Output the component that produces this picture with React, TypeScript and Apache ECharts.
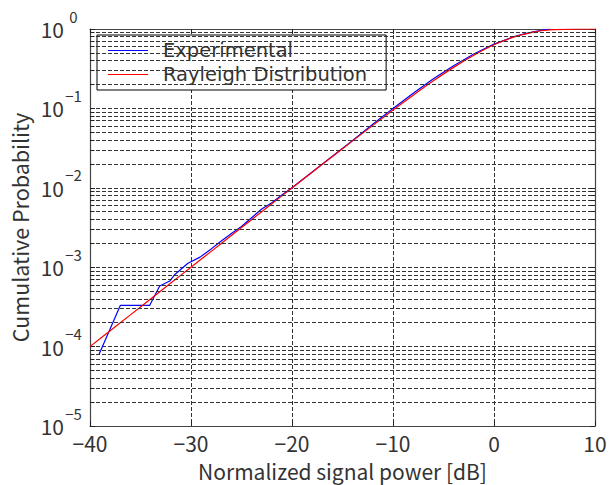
import React, { useEffect, useRef } from "react";
import * as echarts from "echarts";

const xTicks = [-40, -30, -20, -10, 0, 10];
const decadeExps = [-5, -4, -3, -2, -1, 0];
const minorMultipliers = [2, 3, 4, 5, 6, 7, 8, 9];

const rayleighX = [-40, -38, -36, -34, -32, -30, -28, -26, -24, -22, -20, -18, -16, -14, -12, -10, -8, -6, -4, -2, 0, 2, 4, 5, 6, 8, 10];
const rayleighY = [1.0e-4, 1.585e-4, 2.51e-4, 3.98e-4, 6.31e-4, 1.0e-3, 1.583e-3, 2.51e-3, 3.97e-3, 6.29e-3, 9.95e-3, 0.01572, 0.0248, 0.039, 0.0611, 0.0952, 0.1466, 0.2223, 0.3286, 0.4665, 0.632, 0.796, 0.92, 0.958, 0.981, 0.9981, 1.0];

const expX = [-39.1, -37.0, -34.1, -33.1, -32.1, -31.6, -30.3, -29.1, -28.0, -27.2, -26.0, -25.0, -24.0, -23.0, -22.0, -21.0, -20.0, -18.0, -16.0, -14.0, -12.0, -10.0, -8.0, -6.0, -4.0, -2.0, 0.0, 2.0, 3.0, 4.0, 5.0, 5.6];
const expY = [8.0e-5, 3.3e-4, 3.3e-4, 5.8e-4, 6.7e-4, 8.1e-4, 1.12e-3, 1.34e-3, 1.7e-3, 2.05e-3, 2.65e-3, 3.25e-3, 4.2e-3, 5.4e-3, 6.5e-3, 8.1e-3, 1.0e-2, 1.58e-2, 2.5e-2, 3.95e-2, 6.3e-2, 0.1, 0.155, 0.236, 0.345, 0.485, 0.645, 0.8, 0.87, 0.93, 0.975, 1.0];

const FONT = "'Noto Sans CJK JP', 'Noto Sans', sans-serif";
const LEGEND_FONT = "'DejaVu Sans', sans-serif";
const TEXT_COLOR = "#333";
const GRID_COLOR = "#333";
const DASH = [4, 2];

export default function App() {
  const ref = useRef<HTMLDivElement>(null);
  useEffect(() => {
    if (!ref.current) return;
    const chart = echarts.init(ref.current, null, { renderer: "svg" });

    const minorValues: number[] = [];
    decadeExps.slice(0, -1).forEach((e) => {
      minorMultipliers.forEach((m) => minorValues.push(m * Math.pow(10, e)));
    });
    const xMin = xTicks[0];
    const xMax = xTicks[xTicks.length - 1];

    const minorGrid = minorValues.map((v) => ({ yAxis: v }));
    const minorTicks: any[] = [];
    minorValues.forEach((v) => {
      minorTicks.push([{ coord: [xMin, v] }, { coord: [xMin + 0.45, v] }]);
      minorTicks.push([{ coord: [xMax - 0.45, v] }, { coord: [xMax, v] }]);
    });

    const option: any = {
      animation: false,
      grid: { left: 90, right: 14, top: 29, bottom: 59, containLabel: false, outerBoundsMode: "none" },
      legend: {
        orient: "vertical",
        left: 97,
        top: 35,
        backgroundColor: "#fff",
        borderColor: "#000",
        borderWidth: 1,
        borderRadius: 0,
        padding: [5, 19, 5, 11],
        itemGap: 3,
        itemWidth: 40,
        itemHeight: 1.2,
        icon: "rect",
        textStyle: { fontFamily: LEGEND_FONT, fontSize: 19.5, color: TEXT_COLOR, lineHeight: 21, padding: [0, 0, 0, 10] },
        data: ["Experimental", "Rayleigh Distribution"],
      },
      xAxis: [
        {
          type: "value",
          min: xMin,
          max: xMax,
          interval: 10,
          name: "Normalized signal power [dB]",
          nameLocation: "middle",
          nameGap: 34,
          nameTextStyle: { fontFamily: FONT, fontSize: 21, color: TEXT_COLOR },
          axisLine: { show: true, onZero: false, lineStyle: { color: "#444", width: 1.2 } },
          axisTick: { show: true, inside: true, length: 5, lineStyle: { color: "#222" } },
          axisLabel: {
            fontFamily: FONT,
            fontSize: 21,
            color: TEXT_COLOR,
            margin: 6,
            formatter: (v: number) => String(v).replace("-", "\u2212"),
          },
          splitLine: { show: true, lineStyle: { color: GRID_COLOR, type: DASH, width: 1 } },
        },
        {
          type: "value",
          position: "top",
          min: xMin,
          max: xMax,
          interval: 10,
          axisLine: { show: true, onZero: false, lineStyle: { color: "#444", width: 1.2 } },
          axisTick: { show: true, inside: true, length: 5, lineStyle: { color: "#222" } },
          axisLabel: { show: false },
          splitLine: { show: false },
        },
      ],
      yAxis: [
        {
          type: "log",
          logBase: 10,
          min: 1e-5,
          max: 1,
          name: "Cumulative Probability",
          nameLocation: "middle",
          nameGap: 58,
          nameTextStyle: { fontFamily: FONT, fontSize: 21.5, color: TEXT_COLOR },
          axisLine: { show: true, onZero: false, lineStyle: { color: "#444", width: 1.2 } },
          axisTick: { show: true, inside: true, length: 5, lineStyle: { color: "#222" } },
          axisLabel: {
            margin: 8,
            formatter: (v: number) => {
              const e = Math.round(Math.log10(v));
              return "{b|10}{s|" + String(e).replace("-", "\u2212") + "}";
            },
            rich: {
              b: { fontFamily: FONT, fontSize: 21, lineHeight: 22, color: TEXT_COLOR, verticalAlign: "middle" },
              s: {
                fontFamily: FONT,
                fontSize: 15,
                lineHeight: 16,
                color: TEXT_COLOR,
                padding: [0, 0, 26, 1],
                width: 17,
                align: "left",
                verticalAlign: "middle",
              },
            },
          },
          splitLine: { show: true, lineStyle: { color: GRID_COLOR, type: DASH, width: 1 } },
        },
        {
          type: "log",
          logBase: 10,
          min: 1e-5,
          max: 1,
          position: "right",
          axisLine: { show: true, onZero: false, lineStyle: { color: "#444", width: 1.2 } },
          axisTick: { show: true, inside: true, length: 5, lineStyle: { color: "#222" } },
          axisLabel: { show: false },
          splitLine: { show: false },
        },
      ],
      series: [
        {
          name: "Grid",
          type: "line",
          data: [],
          silent: true,
          z: 1,
          markLine: {
            silent: true,
            symbol: "none",
            precision: 12,
            animation: false,
            label: { show: false },
            lineStyle: { color: GRID_COLOR, type: DASH, width: 1 },
            data: minorGrid,
          },
        },
        {
          name: "Ticks",
          type: "line",
          data: [],
          silent: true,
          z: 1,
          markLine: {
            silent: true,
            symbol: "none",
            precision: 12,
            animation: false,
            label: { show: false },
            lineStyle: { color: "#222", type: "solid", width: 1 },
            data: minorTicks,
          },
        },
        {
          name: "Experimental",
          type: "line",
          data: expX.map((x, i) => [x, expY[i]]),
          showSymbol: false,
          symbol: "none",
          lineStyle: { color: "#0000ff", width: 1.2 },
          itemStyle: { color: "#0000ff" },
          z: 3,
        },
        {
          name: "Rayleigh Distribution",
          type: "line",
          data: rayleighX.map((x, i) => [x, rayleighY[i]]),
          showSymbol: false,
          symbol: "none",
          smooth: 0.3,
          lineStyle: { color: "#ff0000", width: 1.2 },
          itemStyle: { color: "#ff0000" },
          z: 4,
        },
      ],
    };
    chart.setOption(option);
    return () => chart.dispose();
  }, []);
  return <div ref={ref} style={{ width: 609, height: 485, position: "absolute", left: 0, top: 0 }} />;
}
